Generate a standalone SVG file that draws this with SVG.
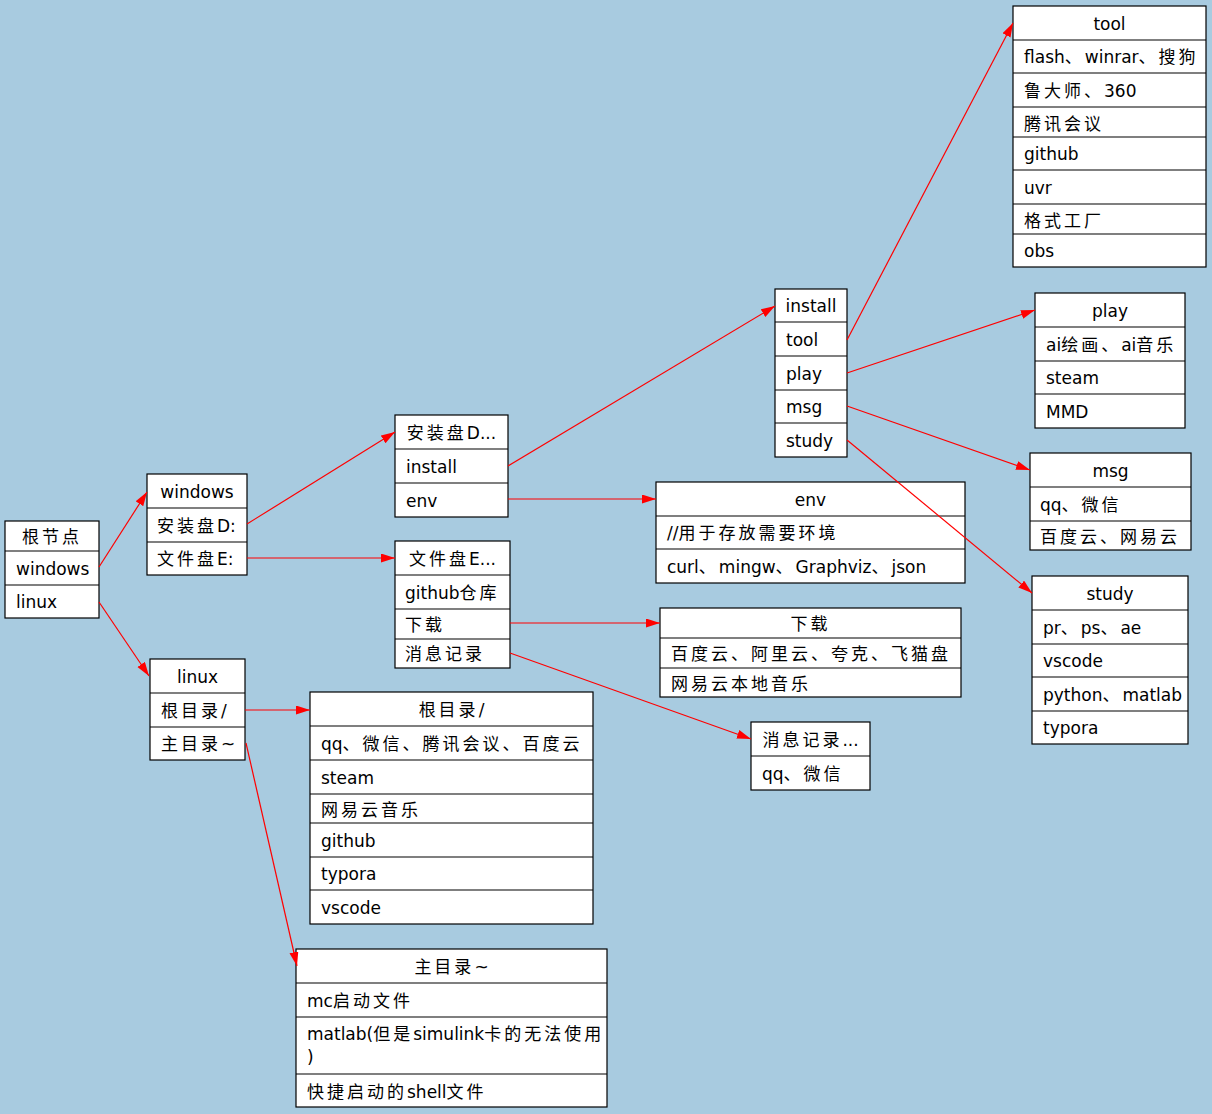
<svg xmlns="http://www.w3.org/2000/svg" width="1212" height="1114" viewBox="0 0 1212 1114">
<defs>
<style>
.box{fill:#fff;stroke:#000;stroke-width:1.2}
.sep{stroke:#000;stroke-width:1.2}
text{font-family:"DejaVu Sans","Noto Sans CJK SC",sans-serif;font-size:17px;fill:#000}
.h{text-anchor:middle}
.c{letter-spacing:3px}
.e{fill:none;stroke:#f00;stroke-width:1.2}
</style>
<marker id="arr" markerUnits="userSpaceOnUse" markerWidth="15" markerHeight="10" refX="14" refY="4.5" orient="auto">
<path d="M0,0 L14,4.5 L0,9 z" fill="#f00"/>
</marker>
</defs>
<rect x="0" y="0" width="1212" height="1114" fill="#a8cbe0"/>

<g id="n-root">
<rect class="box" x="5" y="521" width="94" height="97"/>
<line class="sep" x1="5" y1="551" x2="99" y2="551"/>
<line class="sep" x1="5" y1="585" x2="99" y2="585"/>
<text class="h" x="52" y="543"><tspan class="c">根节点</tspan></text>
<text x="16" y="575">windows</text>
<text x="16" y="608">linux</text>
</g>

<g id="n-windows">
<rect class="box" x="147" y="474" width="100" height="101"/>
<line class="sep" x1="147" y1="508" x2="247" y2="508"/>
<line class="sep" x1="147" y1="542" x2="247" y2="542"/>
<text class="h" x="197" y="498">windows</text>
<text x="157" y="532"><tspan class="c">安装盘</tspan>D:</text>
<text x="157" y="565"><tspan class="c">文件盘</tspan>E:</text>
</g>

<g id="n-linux">
<rect class="box" x="150" y="659" width="95" height="101"/>
<line class="sep" x1="150" y1="693" x2="245" y2="693"/>
<line class="sep" x1="150" y1="727" x2="245" y2="727"/>
<text class="h" x="197.5" y="683">linux</text>
<text x="161" y="717"><tspan class="c">根目录</tspan>/</text>
<text x="161" y="750"><tspan class="c">主目录</tspan>~</text>
</g>

<g id="n-d">
<rect class="box" x="395" y="415" width="113" height="102"/>
<line class="sep" x1="395" y1="449" x2="508" y2="449"/>
<line class="sep" x1="395" y1="483" x2="508" y2="483"/>
<text class="h" x="451.5" y="439"><tspan class="c">安装盘</tspan>D...</text>
<text x="406" y="473">install</text>
<text x="406" y="507">env</text>
</g>

<g id="n-e">
<rect class="box" x="395" y="541" width="115" height="127"/>
<line class="sep" x1="395" y1="575" x2="510" y2="575"/>
<line class="sep" x1="395" y1="609" x2="510" y2="609"/>
<line class="sep" x1="395" y1="639" x2="510" y2="639"/>
<text class="h" x="452.5" y="565"><tspan class="c">文件盘</tspan>E...</text>
<text x="405" y="599">github<tspan class="c">仓库</tspan></text>
<text x="405" y="631"><tspan class="c">下载</tspan></text>
<text x="405" y="660"><tspan class="c">消息记录</tspan></text>
</g>

<g id="n-install">
<rect class="box" x="775" y="289" width="72" height="168"/>
<line class="sep" x1="775" y1="322" x2="847" y2="322"/>
<line class="sep" x1="775" y1="356" x2="847" y2="356"/>
<line class="sep" x1="775" y1="390" x2="847" y2="390"/>
<line class="sep" x1="775" y1="423" x2="847" y2="423"/>
<text class="h" x="811" y="312">install</text>
<text x="786" y="346">tool</text>
<text x="786" y="380">play</text>
<text x="786" y="413">msg</text>
<text x="786" y="447">study</text>
</g>

<g id="n-tool">
<rect class="box" x="1013" y="6" width="193" height="261"/>
<line class="sep" x1="1013" y1="40" x2="1206" y2="40"/>
<line class="sep" x1="1013" y1="73" x2="1206" y2="73"/>
<line class="sep" x1="1013" y1="107" x2="1206" y2="107"/>
<line class="sep" x1="1013" y1="137" x2="1206" y2="137"/>
<line class="sep" x1="1013" y1="170" x2="1206" y2="170"/>
<line class="sep" x1="1013" y1="204" x2="1206" y2="204"/>
<line class="sep" x1="1013" y1="234" x2="1206" y2="234"/>
<text class="h" x="1109.5" y="30">tool</text>
<text x="1024" y="63">flash<tspan class="c">、</tspan>winrar<tspan class="c">、搜狗</tspan></text>
<text x="1024" y="97"><tspan class="c">鲁大师、</tspan>360</text>
<text x="1024" y="130"><tspan class="c">腾讯会议</tspan></text>
<text x="1024" y="160">github</text>
<text x="1024" y="194">uvr</text>
<text x="1024" y="227"><tspan class="c">格式工厂</tspan></text>
<text x="1024" y="257">obs</text>
</g>

<g id="n-play">
<rect class="box" x="1035" y="293" width="150" height="135"/>
<line class="sep" x1="1035" y1="327" x2="1185" y2="327"/>
<line class="sep" x1="1035" y1="361" x2="1185" y2="361"/>
<line class="sep" x1="1035" y1="394" x2="1185" y2="394"/>
<text class="h" x="1110" y="317">play</text>
<text x="1046" y="351">ai<tspan class="c">绘画、</tspan>ai<tspan class="c">音乐</tspan></text>
<text x="1046" y="384">steam</text>
<text x="1046" y="418">MMD</text>
</g>

<g id="n-msg">
<rect class="box" x="1030" y="453" width="161" height="97"/>
<line class="sep" x1="1030" y1="487" x2="1191" y2="487"/>
<line class="sep" x1="1030" y1="521" x2="1191" y2="521"/>
<text class="h" x="1110.5" y="477">msg</text>
<text x="1040" y="511">qq<tspan class="c">、微信</tspan></text>
<text x="1040" y="543"><tspan class="c">百度云、网易云</tspan></text>
</g>

<g id="n-study">
<rect class="box" x="1032" y="576" width="156" height="168"/>
<line class="sep" x1="1032" y1="610" x2="1188" y2="610"/>
<line class="sep" x1="1032" y1="644" x2="1188" y2="644"/>
<line class="sep" x1="1032" y1="677" x2="1188" y2="677"/>
<line class="sep" x1="1032" y1="711" x2="1188" y2="711"/>
<text class="h" x="1110" y="600">study</text>
<text x="1043" y="634">pr<tspan class="c">、</tspan>ps<tspan class="c">、</tspan>ae</text>
<text x="1043" y="667">vscode</text>
<text x="1043" y="701">python<tspan class="c">、</tspan>matlab</text>
<text x="1043" y="734">typora</text>
</g>

<g id="n-env">
<rect class="box" x="656" y="482" width="309" height="101"/>
<line class="sep" x1="656" y1="516" x2="965" y2="516"/>
<line class="sep" x1="656" y1="549" x2="965" y2="549"/>
<text class="h" x="810.5" y="506">env</text>
<text x="667" y="539">//<tspan class="c">用于存放需要环境</tspan></text>
<text x="667" y="573">curl<tspan class="c">、</tspan>mingw<tspan class="c">、</tspan>Graphviz<tspan class="c">、</tspan>json</text>
</g>

<g id="n-download">
<rect class="box" x="660" y="608" width="301" height="89"/>
<line class="sep" x1="660" y1="638" x2="961" y2="638"/>
<line class="sep" x1="660" y1="668" x2="961" y2="668"/>
<text class="h" x="810.5" y="630"><tspan class="c">下载</tspan></text>
<text x="671" y="660"><tspan class="c">百度云、阿里云、夸克、飞猫盘</tspan></text>
<text x="671" y="690"><tspan class="c">网易云本地音乐</tspan></text>
</g>

<g id="n-msgrec">
<rect class="box" x="751" y="722" width="119" height="68"/>
<line class="sep" x1="751" y1="756" x2="870" y2="756"/>
<text class="h" x="810.5" y="746"><tspan class="c">消息记录</tspan>...</text>
<text x="762" y="780">qq<tspan class="c">、微信</tspan></text>
</g>

<g id="n-rootdir">
<rect class="box" x="310" y="692" width="283" height="232"/>
<line class="sep" x1="310" y1="726" x2="593" y2="726"/>
<line class="sep" x1="310" y1="760" x2="593" y2="760"/>
<line class="sep" x1="310" y1="794" x2="593" y2="794"/>
<line class="sep" x1="310" y1="823" x2="593" y2="823"/>
<line class="sep" x1="310" y1="857" x2="593" y2="857"/>
<line class="sep" x1="310" y1="890" x2="593" y2="890"/>
<text class="h" x="451.5" y="716"><tspan class="c">根目录</tspan>/</text>
<text x="321" y="750">qq<tspan class="c">、微信、腾讯会议、百度云</tspan></text>
<text x="321" y="784">steam</text>
<text x="321" y="816"><tspan class="c">网易云音乐</tspan></text>
<text x="321" y="847">github</text>
<text x="321" y="880">typora</text>
<text x="321" y="914">vscode</text>
</g>

<g id="n-homedir">
<rect class="box" x="296" y="949" width="311" height="158"/>
<line class="sep" x1="296" y1="983" x2="607" y2="983"/>
<line class="sep" x1="296" y1="1017" x2="607" y2="1017"/>
<line class="sep" x1="296" y1="1074" x2="607" y2="1074"/>
<text class="h" x="451.5" y="973"><tspan class="c">主目录</tspan>~</text>
<text x="307" y="1007">mc<tspan class="c">启动文件</tspan></text>
<text x="307" y="1040">matlab(<tspan class="c">但是</tspan>simulink<tspan class="c">卡的无法使用</tspan></text>
<text x="307" y="1063">)</text>
<text x="307" y="1098"><tspan class="c">快捷启动的</tspan>shell<tspan class="c">文件</tspan></text>
</g>

<g id="edges">
<path class="e" d="M99,567 L147,492" marker-end="url(#arr)"/>
<path class="e" d="M99,602 L149,676" marker-end="url(#arr)"/>
<path class="e" d="M247,524 L395,432" marker-end="url(#arr)"/>
<path class="e" d="M247,558 L395,558" marker-end="url(#arr)"/>
<path class="e" d="M508,466 L775,306" marker-end="url(#arr)"/>
<path class="e" d="M508,499 L656,499" marker-end="url(#arr)"/>
<path class="e" d="M510,623 L660,623" marker-end="url(#arr)"/>
<path class="e" d="M510,653 L751,739" marker-end="url(#arr)"/>
<path class="e" d="M245,710 L310,710" marker-end="url(#arr)"/>
<path class="e" d="M246,743 L297,966" marker-end="url(#arr)"/>
<path class="e" d="M847,340 L1013,23" marker-end="url(#arr)"/>
<path class="e" d="M847,373 L1035,310" marker-end="url(#arr)"/>
<path class="e" d="M847,406 L1030,470" marker-end="url(#arr)"/>
<path class="e" d="M847,440 L1032,593" marker-end="url(#arr)"/>
</g>
</svg>
